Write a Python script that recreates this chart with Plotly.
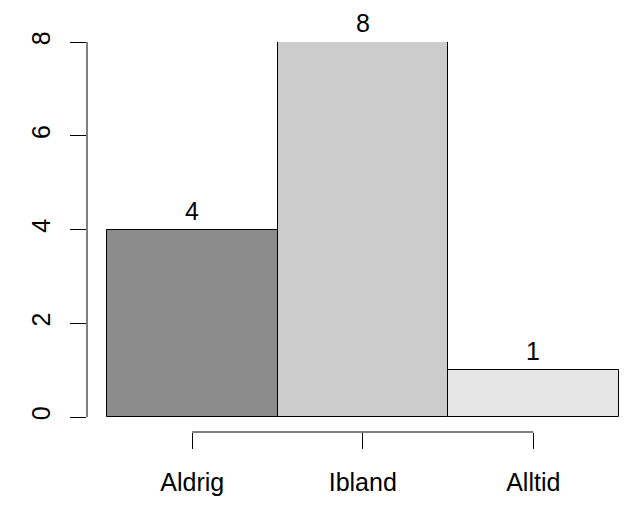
import plotly.graph_objects as go

categories = ["Aldrig", "Ibland", "Alltid"]
values = [4, 8, 1]
colors = ["#8C8C8C", "#CCCCCC", "#E6E6E6"]
y_ticks = [0, 2, 4, 6, 8]

xpos = list(range(len(categories)))
xmin, xmax = -0.6173, 2.5674
ymin, ymax = -0.32, 8

FONT = "Liberation Sans, Arial, Helvetica, sans-serif"

fig = go.Figure()
fig.add_trace(go.Bar(
    x=xpos, y=values, width=1,
    marker=dict(color=colors, line=dict(color="black", width=1)),
    showlegend=False, hoverinfo="skip", cliponaxis=False,
))

for xi, v in zip(xpos, values):
    fig.add_annotation(x=xi, y=v, text=str(v), showarrow=False,
                       yanchor="middle", yshift=19,
                       font=dict(family=FONT, size=25, color="black"))

# axis lines as in R (from first to last tick)
fig.add_shape(type="line", xref="paper", yref="y", x0=0, x1=0, y0=0, y1=8,
              line=dict(color="black", width=1))
fig.add_shape(type="line", xref="x", yref="paper", x0=0, x1=2, y0=0, y1=0,
              line=dict(color="black", width=1))

fig.update_layout(
    width=644, height=520,
    margin=dict(l=87, r=14, t=42, b=88, autoexpand=False),
    plot_bgcolor="white", paper_bgcolor="white",
    font=dict(family=FONT, size=25, color="black"),
    bargap=0,
    xaxis=dict(range=[xmin, xmax], tickvals=xpos, ticktext=categories,
               ticks="outside", ticklen=16, tickcolor="black", tickwidth=1,
               showgrid=False, zeroline=False, showline=False, automargin=False,
               ticklabelstandoff=12, fixedrange=True),
    yaxis=dict(range=[ymin, ymax], tickvals=y_ticks,
               ticktext=[str(t) for t in y_ticks], tickangle=-90,
               ticks="outside", ticklen=16, tickcolor="black", tickwidth=1,
               showgrid=False, zeroline=False, showline=False, automargin=False,
               ticklabelstandoff=10, fixedrange=True),
)

fig.write_html("out.html", post_script="document.body.style.margin='0';",
               config={"displayModeBar": False})
